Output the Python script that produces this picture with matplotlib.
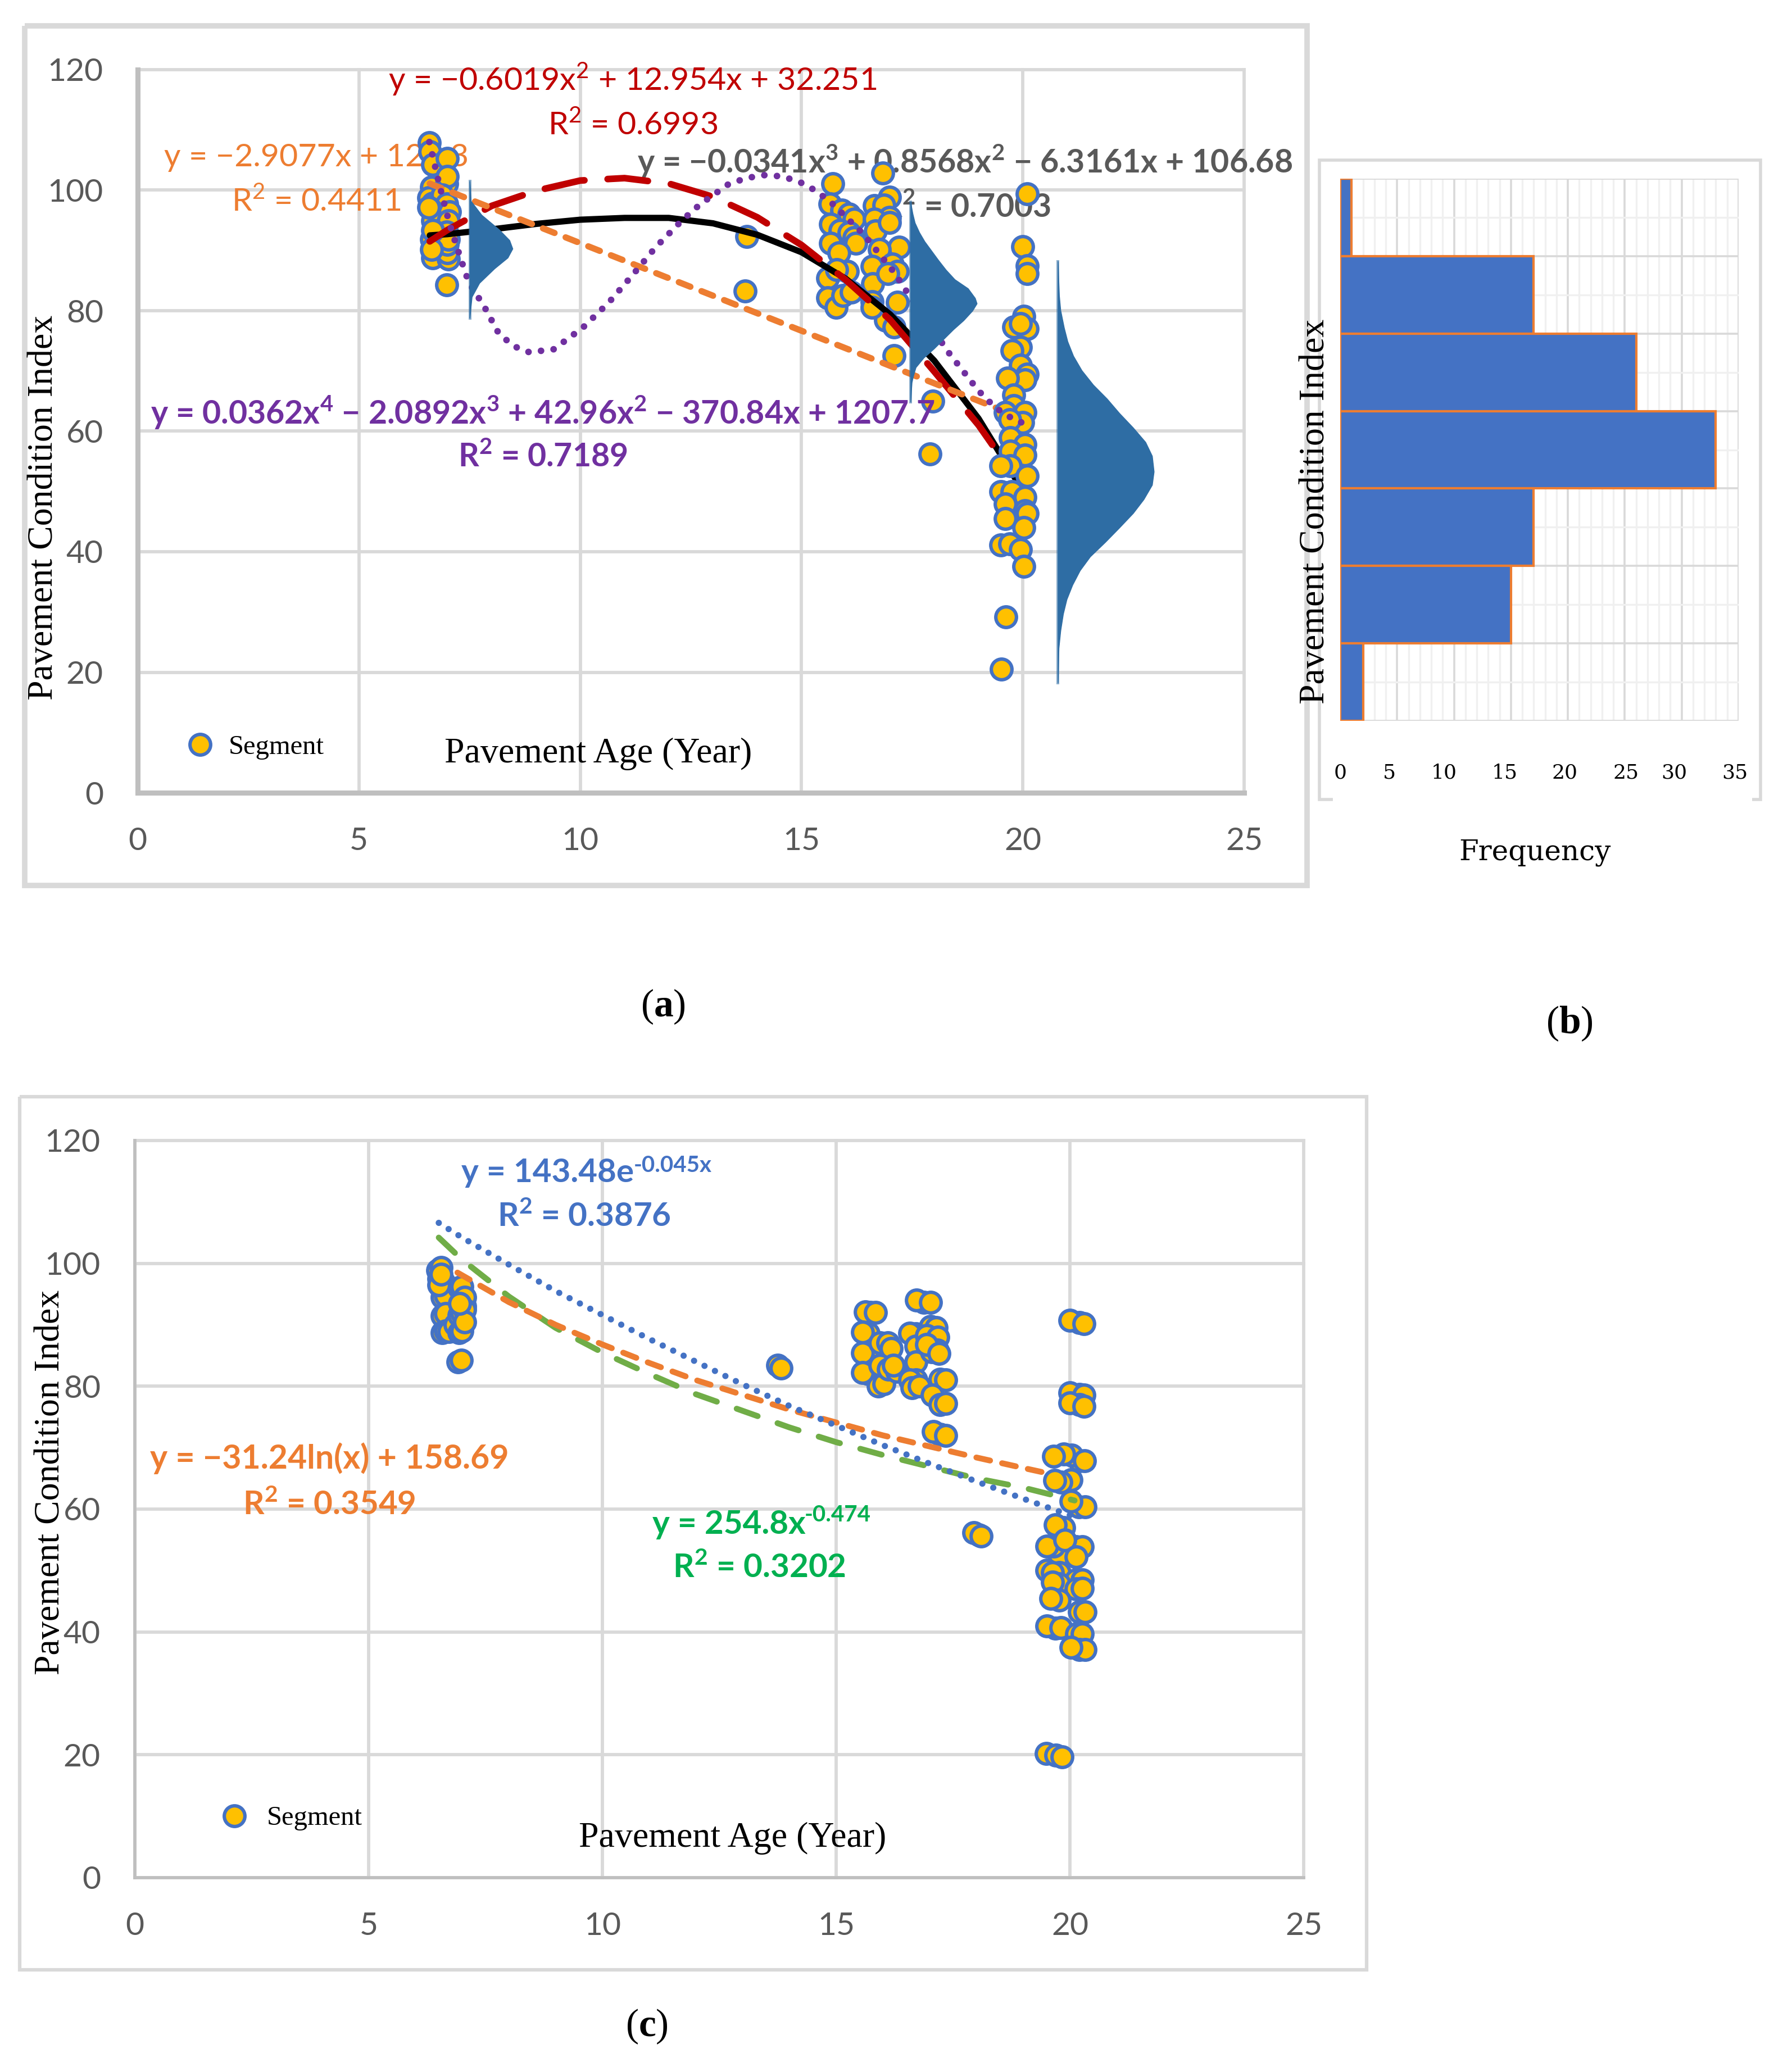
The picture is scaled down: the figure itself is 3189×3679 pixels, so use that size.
import numpy as np
import matplotlib
matplotlib.use("Agg")
import matplotlib.pyplot as plt
from matplotlib.lines import Line2D

W, H = 3189, 3679
plt.rcParams['mathtext.fontset'] = 'custom'
plt.rcParams['mathtext.rm'] = 'Lato'
plt.rcParams['mathtext.bf'] = 'Lato:bold'
plt.rcParams['mathtext.sf'] = 'Liberation Serif:bold'

SANS = ['Lato', 'DejaVu Sans']
SERIF = ['Liberation Serif', 'DejaVu Serif']
WIDE = ['DejaVu Serif']

# panel (a) segments: age, PCI
a_x = np.array([6.59, 6.6, 6.66, 7, 6.64, 6.98, 7, 6.58, 6.66, 6.88, 6.98, 6.64, 7.05, 6.66, 7.02, 6.64, 6.98, 6.66, 7.02, 7, 7, 6.98,
                7.02, 6.66, 6.64, 6.58,
                13.76, 13.73,
                15.7, 15.64, 15.91, 16.08, 16.19, 15.66, 15.87, 16.08, 16.19, 16.23, 15.66, 15.85, 15.59, 16.04, 15.8, 15.59, 15.78, 15.93, 16.12,
                16.84, 16.65, 16.99, 16.86, 16.99, 16.65, 16.67, 16.99, 17.2, 16.76, 17.05, 17.16, 16.59, 16.61, 16.59, 17.16, 16.95, 16.9, 17.09, 16.59, 17.09,
                17.96, 17.9,
                20.1, 20.0, 20.1, 20.1, 20.02, 19.8, 20.1, 19.95, 19.95, 19.75, 19.95, 20.1, 20.05, 19.65, 19.8,
                19.8, 19.6, 20.05, 20.0, 19.7, 19.72, 20.05, 19.72, 20.05, 19.72, 19.5, 20.1, 19.6, 19.5, 19.75,
                20.05, 19.6, 20.05, 20.1, 19.6, 20.02, 19.5, 19.7, 19.95, 20.02, 19.62, 19.52])
a_y = np.array([107.9, 106.4, 104.2, 105.3, 100.5, 101.1, 102.3, 98.7, 97.8, 99.2, 97.7, 96.7, 96.4, 94.9, 94.9, 91.8, 93.1, 88.8, 88.6, 89.6, 91, 84.3,
                91.8, 93.3, 90.2, 97.2,
                92.3, 83.3,
                101.1, 97.7, 96.7, 96, 95.2, 94.4, 93.3, 93, 92.1, 91.2, 91.2, 89.6, 85.4, 86.5, 86.8, 82.1, 80.6, 82.5, 83.1,
                102.8, 97.4, 98.8, 97.5, 95.5, 95.2, 93.2, 94.6, 90.5, 90.2, 87.7, 86.5, 87.4, 84.5, 81.5, 81.4, 86.2, 78.4, 77.3, 80.6, 72.5,
                65, 56.2,
                99.4, 90.6, 87.5, 86.2, 79.1, 77.3, 77, 77.9, 73.9, 73.4, 71, 69.5, 68.5, 68.8, 66,
                64.2, 63.1, 63.1, 61.4, 61.9, 58.9, 57.8, 56.7, 56, 54.3, 54.3, 52.6, 49.8, 50, 50,
                49, 47.9, 46.8, 46.3, 45.5, 44, 41.1, 41.3, 40.4, 37.6, 29.2, 20.5])

# trend lines of panel (a)
red_x = [6.6, 7, 8, 9, 10, 11, 12, 13, 14, 15, 16, 17, 18, 19, 19.6]
red_y = [91.5, 93.4, 97.4, 99.9, 101.6, 102, 101.1, 98.9, 95.5, 90.9, 85.1, 78.5, 69.9, 61, 54.7]
black_x = [6.6, 7, 8, 9, 10, 11, 12, 13, 14, 15, 16, 17, 18, 19, 19.86]
black_y = [92.5, 92.7, 93.5, 94.4, 95.1, 95.4, 95.4, 94.5, 92.6, 89.7, 85.3, 79.4, 71.7, 62.1, 51.8]
lin_x = [6.6, 19.7]
lin_y = [101.1, 63]
quart_x = [6.59, 6.82, 7.05, 7.3, 7.48, 7.83, 8.16, 8.5, 8.85, 9.4, 10.06, 10.65, 11.18, 11.7, 12.3, 12.7, 13.35, 13.75, 14.14, 14.55, 14.95,
           15.3, 15.65, 16.4, 17.1, 17.4, 18.33, 19, 19.38, 19.85, 20.1]
quart_y = [108, 100.8, 94.3, 88.6, 84.7, 80.7, 76.2, 74.1, 73.1, 73.6, 77.2, 81.4, 85.9, 90.5, 95, 97.6, 101, 102, 102.5, 102.3, 101.4,
           100, 98.1, 92.7, 86.3, 82.9, 73, 66.7, 63.9, 61.7, 61.2]

# half violins of panel (a): PCI level and width in years
v1_y = [101.5, 98.2, 95.9, 93.5, 91.7, 90.3, 88.8, 87, 84.6, 82.3, 78.8]
v1_w = [0, 0.03, 0.27, 0.66, 0.9, 0.97, 0.86, 0.56, 0.22, 0.05, 0]
v2_y = [98.1, 96.1, 94.6, 93, 91.5, 89.9, 88.4, 86.8, 85.2, 83.7, 82.1, 81.2, 80, 78.4, 76.9, 75.3, 73.7, 72.2, 70.6, 69.1, 68.1, 64.9]
v2_w = [0, 0.05, 0.1, 0.2, 0.32, 0.48, 0.63, 0.8, 1.0, 1.3, 1.46, 1.5, 1.4, 1.2, 0.97, 0.75, 0.53, 0.3, 0.12, 0.06, 0.03, 0]
v3_y = [88.2, 82.5, 80.1, 77.2, 74.9, 72.5, 70.1, 67.7, 65.4, 63, 60.6, 58.2, 55.9, 53.3, 51.1, 48.7, 46.4, 44, 41.6, 39.2, 36.9, 34.5, 32.1, 29.7, 26.9, 24, 18.3]
v3_w = [0, 0.03, 0.06, 0.14, 0.22, 0.35, 0.54, 0.8, 1.11, 1.39, 1.7, 1.98, 2.13, 2.17, 2.13, 1.94, 1.7, 1.39, 1.07, 0.73, 0.5, 0.33, 0.2, 0.12, 0.06, 0.02, 0]

# panel (b) histogram, top bin first
freq = [1, 17, 26, 33, 17, 15, 2]
freq_ticks = [0, 5, 10, 15, 20, 25, 30, 35]

# panel (c) segments
c_x = np.array([6.48, 6.55, 6.53, 6.6, 6.58, 6.65, 6.58, 6.65, 6.58, 6.65, 6.72, 6.93, 7.0, 7.05, 6.85, 6.93, 7.0, 6.93, 7.0, 6.91, 6.98,
                7.05, 7.05, 7.05, 6.95, 6.5, 6.5, 6.55,
                13.75, 13.82,
                15.73, 15.62, 15.84, 15.69, 15.56, 15.69, 15.56, 15.69, 15.56, 15.94, 16.1, 16.18, 15.9, 16.02, 15.94, 16.12, 16.3, 16.22,
                16.71, 16.58, 16.71, 16.71, 16.71, 16.58, 16.62, 16.78, 16.88, 16.72, 17.02, 17.02, 17.14, 16.94, 17.18, 17.04, 17.16, 16.94, 17.2,
                17.22, 17.34, 17.06, 17.22, 17.34, 17.22, 17.08, 17.34,
                18.05, 17.95, 18.1,
                20.2, 20.0, 20.3, 20.2, 20.0, 20.3, 20.2, 20.0, 20.3,
                20.2, 20.04, 19.87, 19.65, 20.31, 20.02, 19.81, 19.67, 20.19, 20.33, 20.02, 19.87, 19.69, 20.13, 20.27, 19.77, 19.65, 19.51, 19.89, 20.13,
                19.77, 19.51, 19.63, 20.13, 20.27, 19.77, 19.63, 20.13, 20.27, 19.77, 19.59, 20.2, 20.33, 19.69, 19.51, 19.81, 20.15, 20.27, 20.2, 20.33, 20.03,
                19.5, 19.7, 19.83])
c_y = np.array([98.9, 99.3, 96.7, 97, 94.5, 94.8, 91.5, 91.8, 88.7, 89, 88.9, 96, 96.2, 93, 90, 91.6, 91.9, 88.7, 89, 84, 84.2,
                94.5, 92.5, 90.5, 93.5, 97.5, 96.5, 98.2,
                83.4, 83,
                92, 92.1, 92, 88.6, 88.8, 85.3, 85.4, 82, 82.2, 87.1, 87.1, 86.2, 80, 80.4, 83.4, 82.8, 82.4, 83.4,
                88.5, 88.6, 86.5, 84, 81, 81, 79.8, 80, 93.7, 94, 93.7, 89.7, 89.5, 88.3, 88, 85.6, 85.9, 86.8, 85.3,
                81.1, 81, 78.6, 77, 77.2, 72.2, 72.6, 72,
                55.8, 56.2, 55.6,
                90.4, 90.7, 90.2, 78.7, 78.9, 78.6, 77, 77.3, 76.7,
                67.9, 68.8, 69, 68.6, 67.9, 64.8, 64.4, 64.7, 60.4, 60.4, 61.3, 57, 57.4, 53.9, 53.9, 52.6, 54, 54, 55, 52.2,
                49.7, 50, 49.7, 48.5, 48.5, 47.8, 48.1, 47, 47.1, 45.2, 45.5, 43.3, 43.3, 40.6, 41, 40.7, 39.7, 39.7, 37.1, 37.1, 37.5,
                20.2, 19.9, 19.7])

# trend lines of panel (c)
exp_x = [6.5, 7, 8, 9, 10, 11, 12, 13, 14, 15, 16, 17, 18, 19, 20]
exp_y = [106.6, 104.2, 99.8, 95.5, 91.6, 87.7, 84, 80.3, 76.8, 73.6, 70.4, 67.4, 64.5, 61.7, 59]
log_x = [6.9, 8, 9, 10, 11, 12, 13, 14, 15, 16, 17, 18, 19, 19.6]
log_y = [98.5, 93.7, 90, 86.8, 83.8, 81, 78.6, 76.2, 74.1, 72, 70.2, 68.4, 66.7, 65.7]
pow_x = [6.5, 7, 8, 9, 10, 11, 12, 13, 14, 15, 16, 17, 18, 19, 20.1]
pow_y = [104.2, 100.6, 94.6, 89.5, 85.5, 82, 78.7, 76, 73.3, 70.9, 68.8, 66.9, 65, 63.5, 61.4]

age_ticks = [0, 5, 10, 15, 20, 25]
pci_ticks = [0, 20, 40, 60, 80, 100, 120]

BLUE = '#4472C4'
ORANGE = '#ED7D31'
GOLD = '#FFC000'
GRID = '#D9D9D9'
AXISC = '#BFBFBF'
TICKC = '#595959'
VIOLIN = '#2E6DA4'


def fx(x):
    return x / W


def fy(y):
    return 1 - y / H


def make_axes(fig, left, top, right, bottom):
    return fig.add_axes([fx(left), fy(bottom), (right - left) / W, (bottom - top) / H])


def frame(fig, pts, lw):
    xs = [fx(p[0]) for p in pts]
    ys = [fy(p[1]) for p in pts]
    fig.add_artist(Line2D(xs, ys, color=GRID, lw=lw, solid_joinstyle='miter', solid_capstyle='butt'))


def scatter_plot(ax, spine_lw):
    ax.set_xlim(0, 25)
    ax.set_ylim(0, 120)
    ax.set_xticks(age_ticks)
    ax.set_yticks(pci_ticks)
    ax.grid(True, color=GRID, lw=4.2, zorder=0)
    ax.set_axisbelow(True)
    for s in ['top', 'right']:
        ax.spines[s].set_visible(False)
    for s in ['left', 'bottom']:
        ax.spines[s].set_color(AXISC)
        ax.spines[s].set_linewidth(spine_lw)
    ax.tick_params(length=0, labelsize=41, labelcolor=TICKC, pad=44)
    for lab in ax.get_xticklabels() + ax.get_yticklabels():
        lab.set_family(SANS)
    for line in ax.get_xgridlines() + ax.get_ygridlines():
        line.set_clip_on(False)


def points(ax, x, y, z=3):
    ax.scatter(x, y, s=700, facecolor=GOLD, edgecolor=BLUE, linewidth=4.4, zorder=z, clip_on=False)


def label(ax, x, y, s, color, size=41.2, weight='normal', z=6, ha='center', family=SANS):
    ax.text(fx(x), fy(y), s, transform=ax.figure.transFigure, color=color, fontsize=size,
            fontweight=weight, ha=ha, va='center', family=family, zorder=z, clip_on=False)


fig = plt.figure(figsize=(W / 100, H / 100), dpi=100, facecolor='white')

# panel (a)
frame(fig, [(44, 46), (2326, 46), (2326, 1576), (44, 1576), (44, 46)], 7)
ax = make_axes(fig, 245, 124, 2214, 1411)
scatter_plot(ax, 6.5)
late = a_x > 19
points(ax, a_x[~late], a_y[~late], 3)
points(ax, a_x[late], a_y[late], 4.5)
ax.plot(black_x, black_y, color='black', lw=8, zorder=4, solid_capstyle='round')
ax.plot(red_x, red_y, color='#C00000', lw=8.5, ls=(0, (6.1, 3.5)), dash_capstyle='round', zorder=4.1)
ax.plot(lin_x, lin_y, color=ORANGE, lw=8, ls=(0, (2, 1.9)), dash_capstyle='round', zorder=4.2)
ax.plot(quart_x, quart_y, color='#7030A0', lw=8.5, ls=(0, (0.01, 1.9)), dash_capstyle='round', zorder=4.7)
for base, vy, vw in [(7.5, v1_y, v1_w), (17.46, v2_y, v2_w), (20.79, v3_y, v3_w)]:
    ax.fill_betweenx(vy, base, base + np.array(vw), color=VIOLIN, lw=1, zorder=5, clip_on=False)
    ax.plot([base, base], [vy[0], vy[-1]], color=VIOLIN, alpha=0.55, lw=3.6, zorder=5.1)

label(ax, 1126, 141, r'y = −0.6019x$^{\mathrm{2}}$ + 12.954x + 32.251', '#C00000')
label(ax, 1126, 222, r'R$^{\mathrm{2}}$ = 0.6993', '#C00000')
label(ax, 563, 281, 'y = −2.9077x + 120.3', ORANGE, z=1.5)
label(ax, 563, 358, r'R$^{\mathrm{2}}$ = 0.4411', ORANGE, z=1.5)
label(ax, 1717, 287, r'y = −0.0341x$^{\mathbf{3}}$ + 0.8568x$^{\mathbf{2}}$ − 6.3161x + 106.68', TICKC, weight='bold', z=1.5)
label(ax, 1719, 369, r'R$^{\mathbf{2}}$ = 0.7003', TICKC, weight='bold', z=1.5)
label(ax, 966, 734, r'y = 0.0362x$^{\mathbf{4}}$ − 2.0892x$^{\mathbf{3}}$ + 42.96x$^{\mathbf{2}}$ − 370.84x + 1207.7', '#7030A0', weight='bold')
label(ax, 966, 813, r'R$^{\mathbf{2}}$ = 0.7189', '#7030A0', weight='bold')
fig.text(fx(78), fy(903), 'Pavement Condition Index', rotation=90, ha='center', va='center', fontsize=46, family=SERIF)
fig.text(fx(1065), fy(1342), 'Pavement Age (Year)', ha='center', va='center', fontsize=46, family=SERIF)
ax.scatter([1.41], [8.0], s=700, facecolor=GOLD, edgecolor=BLUE, linewidth=4.4, zorder=3)
fig.text(fx(492), fy(1330), 'Segment', ha='center', va='center', fontsize=35, family=SERIF)

# panel (b)
frame(fig, [(2372, 1423), (2348, 1423), (2348, 285), (3133, 285), (3133, 1423), (3118, 1423)], 4)
bx = make_axes(fig, 2385, 318, 3094, 1283)
bx.set_xlim(0, 35)
bx.set_ylim(0, 7)
bx.set_xticks(freq_ticks)
bx.set_xticks(np.arange(0, 36), minor=True)
bx.set_yticks(np.arange(0, 8))
bx.set_yticks(np.arange(0.5, 7), minor=True)
bx.grid(True, which='major', color=GRID, lw=2.6)
bx.grid(True, which='minor', color='#F0F0F0', lw=2.4)
bx.set_axisbelow(True)
bx.tick_params(which='both', length=0, labelbottom=False, labelleft=False)
for s in bx.spines.values():
    s.set_visible(False)
bin_pos = np.arange(6.5, -0.5, -1)
bx.barh(bin_pos, freq, height=1, color=BLUE, edgecolor=ORANGE, linewidth=3, zorder=3)
for val, px in zip(freq_ticks, [2385, 2472, 2570, 2678, 2785, 2894, 2979, 3087]):
    fig.text(fx(px), fy(1375), str(val), ha='center', va='center', fontsize=26, family=WIDE)
fig.text(fx(2731), fy(1517), 'Frequency', ha='center', va='center', fontsize=36, family=WIDE)
fig.text(fx(2341), fy(910), 'Pavement Condition Index', rotation=90, ha='center', va='center', fontsize=46, family=SERIF)

# panel (c)
frame(fig, [(35, 1952), (2432, 1952), (2432, 3506), (35, 3506), (35, 1952)], 4.5)
cx = make_axes(fig, 240, 2030, 2320, 3342)
scatter_plot(cx, 4)
points(cx, c_x, c_y)
cx.plot(pow_x, pow_y, color='#70AD47', lw=7.5, ls=(0, (3.8, 3.6)), dash_capstyle='round', zorder=4.1)
cx.plot(log_x, log_y, color=ORANGE, lw=7.5, ls=(0, (2.4, 2.1)), dash_capstyle='round', zorder=4.2)
cx.plot(exp_x, exp_y, color=BLUE, lw=8, ls=(0, (0.01, 1.85)), dash_capstyle='round', zorder=4.3)

label(cx, 821, 2088, 'y = 143.48e', BLUE, size=42, weight='bold', ha='left')
label(cx, 1128, 2074, '-0.045x', BLUE, size=29, weight='bold', ha='left')
label(cx, 1039, 2165, r'R$^{\mathbf{2}}$ = 0.3876', BLUE, size=42, weight='bold')
label(cx, 586, 2596, 'y = −31.24ln(x) + 158.69', ORANGE, size=42.5, weight='bold')
label(cx, 586, 2678, r'R$^{\mathbf{2}}$ = 0.3549', ORANGE, size=42, weight='bold')
label(cx, 1161, 2713, 'y = 254.8x', '#00B050', size=42, weight='bold', ha='left')
label(cx, 1432, 2697, '-0.474', '#00B050', size=29, weight='bold', ha='left')
label(cx, 1351, 2790, r'R$^{\mathbf{2}}$ = 0.3202', '#00B050', size=42, weight='bold')
fig.text(fx(90), fy(2638), 'Pavement Condition Index', rotation=90, ha='center', va='center', fontsize=46, family=SERIF)
fig.text(fx(1304), fy(3272), 'Pavement Age (Year)', ha='center', va='center', fontsize=46, family=SERIF)
cx.scatter([2.13], [10.1], s=700, facecolor=GOLD, edgecolor=BLUE, linewidth=4.4, zorder=3)
fig.text(fx(560), fy(3236), 'Segment', ha='center', va='center', fontsize=35, family=SERIF)

# captions
for px, py, letter in [(1180, 1792, 'a'), (2793, 1822, 'b'), (1151, 3607, 'c')]:
    fig.text(fx(px), fy(py), r'($\mathsf{%s}$)' % letter, ha='center', va='center', fontsize=50,
             family=SERIF, math_fontfamily='custom')

fig.savefig('out.png', dpi=100)
